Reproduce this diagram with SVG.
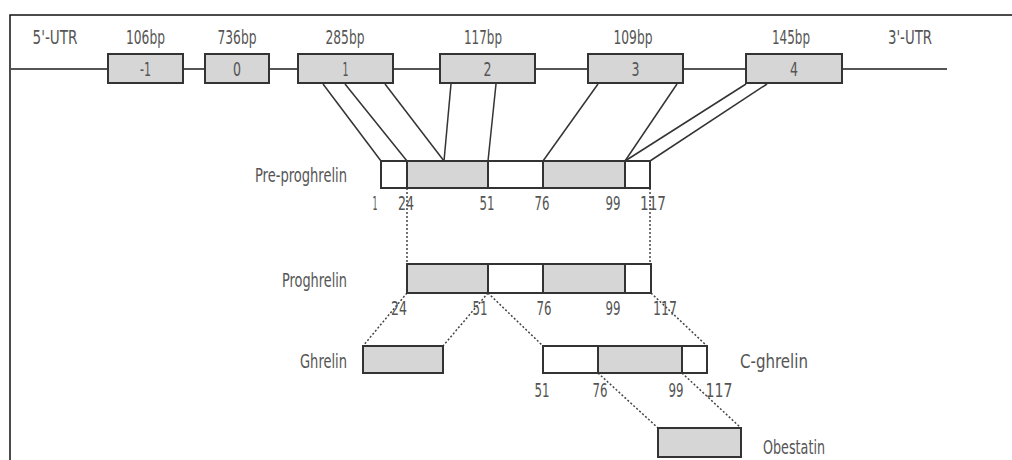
<svg xmlns="http://www.w3.org/2000/svg" width="1012" height="460" viewBox="0 0 1012 460">
<style>
text{font-family:"Liberation Sans Narrow","DejaVu Sans Condensed","Liberation Sans",sans-serif;font-size:19px;fill:#555}
.c{text-anchor:middle}
.e{text-anchor:end}
.box{stroke:#333;stroke-width:2}
.g{fill:#d6d6d6}
.w{fill:#fff}
.sep{stroke:#333;stroke-width:2}
.solid{stroke:#333;stroke-width:1.5;fill:none}
.dot{stroke:#444;stroke-width:1.5;stroke-dasharray:2 2;fill:none}
.frame{stroke:#111;stroke-width:1.5;fill:none}
</style>
<rect width="1012" height="460" fill="#fff"/>
<path class="frame" d="M10,460 V15 H1012"/>
<g id="gene">
<line x1="11" y1="69" x2="947" y2="69" stroke="#555" stroke-width="2"/>
<text x="55" y="44" class="c" textLength="45" lengthAdjust="spacingAndGlyphs">5'-UTR</text>
<text x="910" y="44" class="c" textLength="44" lengthAdjust="spacingAndGlyphs">3'-UTR</text>
</g>
<g id="exon-m1">
<rect class="box g" x="108" y="54" width="75" height="29"/>
<text x="145.5" y="76" class="c" textLength="11" lengthAdjust="spacingAndGlyphs">-1</text>
<text x="145.5" y="44" class="c" textLength="39" lengthAdjust="spacingAndGlyphs">106bp</text>
</g>
<g id="exon-0">
<rect class="box g" x="205" y="54" width="64" height="29"/>
<text x="237" y="76" class="c" textLength="8" lengthAdjust="spacingAndGlyphs">0</text>
<text x="237" y="44" class="c" textLength="39" lengthAdjust="spacingAndGlyphs">736bp</text>
</g>
<g id="exon-1">
<rect class="box g" x="298" y="54" width="95" height="29"/>
<text x="345.5" y="76" class="c" textLength="6" lengthAdjust="spacingAndGlyphs">1</text>
<text x="345" y="44" class="c" textLength="39" lengthAdjust="spacingAndGlyphs">285bp</text>
</g>
<g id="exon-2">
<rect class="box g" x="440" y="54" width="95" height="29"/>
<text x="487.5" y="76" class="c" textLength="8" lengthAdjust="spacingAndGlyphs">2</text>
<text x="483" y="44" class="c" textLength="38" lengthAdjust="spacingAndGlyphs">117bp</text>
</g>
<g id="exon-3">
<rect class="box g" x="588" y="54" width="95" height="29"/>
<text x="635.5" y="76" class="c" textLength="8" lengthAdjust="spacingAndGlyphs">3</text>
<text x="633" y="44" class="c" textLength="39" lengthAdjust="spacingAndGlyphs">109bp</text>
</g>
<g id="exon-4">
<rect class="box g" x="746" y="54" width="96" height="29"/>
<text x="794" y="76" class="c" textLength="8" lengthAdjust="spacingAndGlyphs">4</text>
<text x="791" y="44" class="c" textLength="38" lengthAdjust="spacingAndGlyphs">145bp</text>
</g>
<g id="connectors">
<line class="solid" x1="323" y1="84" x2="381" y2="161"/>
<line class="solid" x1="345" y1="84" x2="407" y2="161"/>
<line class="solid" x1="385" y1="84" x2="444" y2="161"/>
<line class="solid" x1="451" y1="84" x2="444" y2="161"/>
<line class="solid" x1="496" y1="84" x2="488" y2="161"/>
<line class="solid" x1="598" y1="84" x2="543" y2="161"/>
<line class="solid" x1="677" y1="84" x2="625" y2="161"/>
<line class="solid" x1="746" y1="84" x2="625" y2="161"/>
<line class="solid" x1="767" y1="84" x2="650" y2="161"/>
<line class="dot" x1="407" y1="188" x2="407" y2="264"/>
<line class="dot" x1="650" y1="188" x2="650" y2="264"/>
<line class="dot" x1="407" y1="293" x2="363" y2="346"/>
<line class="dot" x1="488" y1="293" x2="443" y2="346"/>
<line class="dot" x1="488" y1="293" x2="543" y2="346"/>
<line class="dot" x1="651" y1="293" x2="707" y2="346"/>
<line class="dot" x1="598" y1="373" x2="658" y2="428"/>
<line class="dot" x1="682" y1="373" x2="741" y2="428"/>
</g>
<g id="pre-proghrelin">
<rect class="w" x="381" y="161" width="269" height="27"/>
<rect class="g" x="407" y="161" width="81" height="27"/>
<rect class="g" x="543" y="161" width="82" height="27"/>
<rect class="box" fill="none" x="381" y="161" width="269" height="27"/>
<line class="sep" x1="407" y1="161" x2="407" y2="188"/>
<line class="sep" x1="488" y1="161" x2="488" y2="188"/>
<line class="sep" x1="543" y1="161" x2="543" y2="188"/>
<line class="sep" x1="625" y1="161" x2="625" y2="188"/>
<text x="347" y="182" class="e" textLength="92" lengthAdjust="spacingAndGlyphs">Pre-proghrelin</text>
<text x="375" y="210" class="c" textLength="5" lengthAdjust="spacingAndGlyphs">1</text>
<text x="406" y="210" class="c" textLength="16" lengthAdjust="spacingAndGlyphs">24</text>
<text x="487" y="210" class="c" textLength="15" lengthAdjust="spacingAndGlyphs">51</text>
<text x="542" y="210" class="c" textLength="15" lengthAdjust="spacingAndGlyphs">76</text>
<text x="613" y="210" class="c" textLength="15" lengthAdjust="spacingAndGlyphs">99</text>
<text x="653" y="210" class="c" textLength="26" lengthAdjust="spacingAndGlyphs">117</text>
</g>
<g id="proghrelin">
<rect class="w" x="407" y="264" width="244" height="29"/>
<rect class="g" x="407" y="264" width="81" height="29"/>
<rect class="g" x="543" y="264" width="82" height="29"/>
<rect class="box" fill="none" x="407" y="264" width="244" height="29"/>
<line class="sep" x1="488" y1="264" x2="488" y2="293"/>
<line class="sep" x1="543" y1="264" x2="543" y2="293"/>
<line class="sep" x1="625" y1="264" x2="625" y2="293"/>
<text x="347" y="287" class="e" textLength="65" lengthAdjust="spacingAndGlyphs">Proghrelin</text>
<text x="399" y="315" class="c" textLength="16" lengthAdjust="spacingAndGlyphs">24</text>
<text x="480" y="315" class="c" textLength="15" lengthAdjust="spacingAndGlyphs">51</text>
<text x="544" y="315" class="c" textLength="15" lengthAdjust="spacingAndGlyphs">76</text>
<text x="613" y="315" class="c" textLength="15" lengthAdjust="spacingAndGlyphs">99</text>
<text x="665" y="315" class="c" textLength="24" lengthAdjust="spacingAndGlyphs">117</text>
</g>
<g id="ghrelin">
<rect class="box g" x="363" y="346" width="80" height="27"/>
<text x="347" y="368" class="e" textLength="47" lengthAdjust="spacingAndGlyphs">Ghrelin</text>
</g>
<g id="c-ghrelin">
<rect class="w" x="543" y="346" width="164" height="27"/>
<rect class="g" x="598" y="346" width="84" height="27"/>
<rect class="box" fill="none" x="543" y="346" width="164" height="27"/>
<line class="sep" x1="598" y1="346" x2="598" y2="373"/>
<line class="sep" x1="682" y1="346" x2="682" y2="373"/>
<text x="740" y="368" textLength="68" lengthAdjust="spacingAndGlyphs">C-ghrelin</text>
<text x="542" y="397" class="c" textLength="15" lengthAdjust="spacingAndGlyphs">51</text>
<text x="600" y="397" class="c" textLength="15" lengthAdjust="spacingAndGlyphs">76</text>
<text x="676" y="397" class="c" textLength="15" lengthAdjust="spacingAndGlyphs">99</text>
<text x="719" y="397" class="c" textLength="27" lengthAdjust="spacingAndGlyphs">117</text>
</g>
<g id="obestatin">
<rect class="box g" x="658" y="428" width="83" height="29"/>
<text x="763" y="454" textLength="62" lengthAdjust="spacingAndGlyphs">Obestatin</text>
</g>
</svg>
